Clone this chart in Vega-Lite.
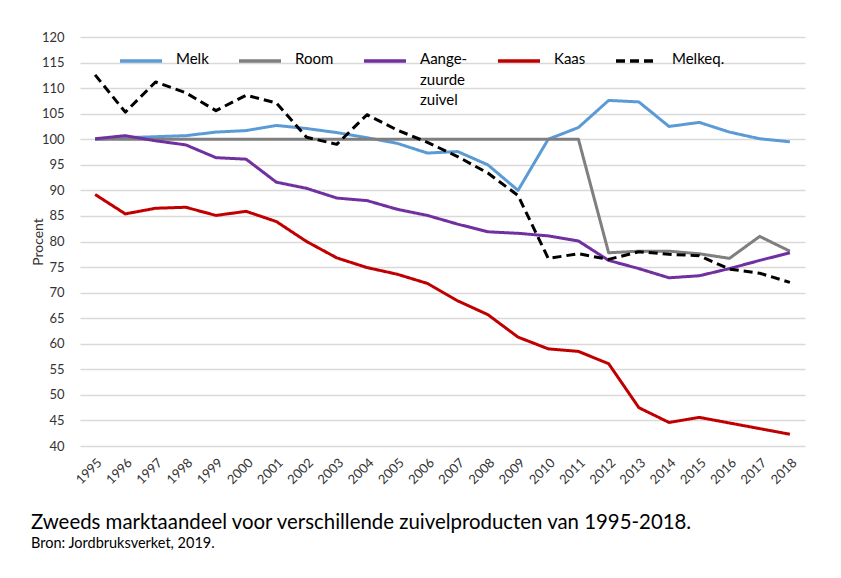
{
  "$schema": "https://vega.github.io/schema/vega-lite/v6.json",
  "width": 725,
  "height": 409,
  "autosize": {"type": "none"},
  "padding": {"left": 80, "top": 37, "right": 36, "bottom": 132},
  "background": "white",
  "config": {
    "font": "Lato",
    "view": {"stroke": null}
  },
  "title": {
    "text": "Zweeds marktaandeel voor verschillende zuivelproducten van 1995-2018.",
    "subtitle": "Bron: Jordbruksverket, 2019.",
    "orient": "bottom",
    "anchor": "start",
    "frame": "group",
    "dx": -49,
    "offset": 26,
    "font": "Lato",
    "fontSize": 20.4,
    "fontWeight": "normal",
    "color": "#000000",
    "subtitleFont": "Lato",
    "subtitleFontSize": 14.5,
    "subtitleColor": "#000000",
    "subtitlePadding": 4
  },
  "data": {
    "values": [
      {"year": "1995", "Melk": 100.0, "Room": 100, "Aangezuurde zuivel": 100.1, "Kaas": 89.2, "Melkeq": 112.6},
      {"year": "1996", "Melk": 100.3, "Room": 100, "Aangezuurde zuivel": 100.7, "Kaas": 85.4, "Melkeq": 105.3},
      {"year": "1997", "Melk": 100.5, "Room": 100, "Aangezuurde zuivel": 99.7, "Kaas": 86.5, "Melkeq": 111.2},
      {"year": "1998", "Melk": 100.7, "Room": 100, "Aangezuurde zuivel": 98.9, "Kaas": 86.7, "Melkeq": 109.1},
      {"year": "1999", "Melk": 101.4, "Room": 100, "Aangezuurde zuivel": 96.4, "Kaas": 85.1, "Melkeq": 105.6},
      {"year": "2000", "Melk": 101.7, "Room": 100, "Aangezuurde zuivel": 96.1, "Kaas": 85.9, "Melkeq": 108.6},
      {"year": "2001", "Melk": 102.7, "Room": 100, "Aangezuurde zuivel": 91.6, "Kaas": 83.9, "Melkeq": 107.1},
      {"year": "2002", "Melk": 102.1, "Room": 100, "Aangezuurde zuivel": 90.4, "Kaas": 80.0, "Melkeq": 100.4},
      {"year": "2003", "Melk": 101.3, "Room": 100, "Aangezuurde zuivel": 88.5, "Kaas": 76.8, "Melkeq": 99.0},
      {"year": "2004", "Melk": 100.3, "Room": 100, "Aangezuurde zuivel": 88.0, "Kaas": 74.9, "Melkeq": 104.8},
      {"year": "2005", "Melk": 99.2, "Room": 100, "Aangezuurde zuivel": 86.3, "Kaas": 73.6, "Melkeq": 101.8},
      {"year": "2006", "Melk": 97.3, "Room": 100, "Aangezuurde zuivel": 85.1, "Kaas": 71.8, "Melkeq": 99.4},
      {"year": "2007", "Melk": 97.6, "Room": 100, "Aangezuurde zuivel": 83.4, "Kaas": 68.4, "Melkeq": 96.6},
      {"year": "2008", "Melk": 95.0, "Room": 100, "Aangezuurde zuivel": 81.9, "Kaas": 65.7, "Melkeq": 93.4},
      {"year": "2009", "Melk": 90.0, "Room": 100, "Aangezuurde zuivel": 81.6, "Kaas": 61.3, "Melkeq": 89.0},
      {"year": "2010", "Melk": 100.0, "Room": 100, "Aangezuurde zuivel": 81.1, "Kaas": 59.0, "Melkeq": 76.7},
      {"year": "2011", "Melk": 102.3, "Room": 100, "Aangezuurde zuivel": 80.1, "Kaas": 58.5, "Melkeq": 77.6},
      {"year": "2012", "Melk": 107.6, "Room": 77.8, "Aangezuurde zuivel": 76.3, "Kaas": 56.1, "Melkeq": 76.5},
      {"year": "2013", "Melk": 107.3, "Room": 78.1, "Aangezuurde zuivel": 74.7, "Kaas": 47.5, "Melkeq": 78.0},
      {"year": "2014", "Melk": 102.5, "Room": 78.1, "Aangezuurde zuivel": 72.9, "Kaas": 44.6, "Melkeq": 77.5},
      {"year": "2015", "Melk": 103.3, "Room": 77.6, "Aangezuurde zuivel": 73.3, "Kaas": 45.6, "Melkeq": 77.2},
      {"year": "2016", "Melk": 101.4, "Room": 76.7, "Aangezuurde zuivel": 74.7, "Kaas": 44.5, "Melkeq": 74.6},
      {"year": "2017", "Melk": 100.1, "Room": 81.0, "Aangezuurde zuivel": 76.3, "Kaas": 43.4, "Melkeq": 73.8},
      {"year": "2018", "Melk": 99.5, "Room": 78.1, "Aangezuurde zuivel": 77.8, "Kaas": 42.3, "Melkeq": 72.0}
    ]
  },
  "transform": [
    {"fold": ["Melk", "Room", "Aangezuurde zuivel", "Kaas", "Melkeq"], "as": ["product", "value"]}
  ],
  "mark": {"type": "line", "strokeWidth": 3, "strokeJoin": "round"},
  "encoding": {
    "x": {
      "field": "year",
      "type": "ordinal",
      "scale": {"type": "point", "padding": 0.5},
      "axis": {
        "title": null,
        "labelAngle": -45,
        "labelFont": "Lato",
        "labelFontSize": 13,
        "labelColor": "#333333",
        "labelPadding": 10,
        "domain": false,
        "ticks": false,
        "grid": false
      }
    },
    "y": {
      "field": "value",
      "type": "quantitative",
      "scale": {"domain": [40, 120], "nice": false, "zero": false},
      "axis": {
        "title": "Procent",
        "titleFont": "Lato",
        "titleFontSize": 14,
        "titleFontWeight": "normal",
        "titleColor": "#333333",
        "titlePadding": -4,
        "values": [40, 45, 50, 55, 60, 65, 70, 75, 80, 85, 90, 95, 100, 105, 110, 115, 120],
        "labelFont": "Lato",
        "labelFontSize": 13,
        "labelColor": "#333333",
        "labelPadding": 16,
        "domain": false,
        "ticks": false,
        "grid": true,
        "gridColor": "#d9d9d9",
        "gridWidth": 1.5,
        "encode": {
          "grid": {"update": {"x": {"signal": "datum.value == 115 ? 658 : 0"}}}
        }
      }
    },
    "color": {
      "field": "product",
      "type": "nominal",
      "scale": {
        "domain": ["Melk", "Room", "Aangezuurde zuivel", "Kaas", "Melkeq"],
        "range": ["#5b9bd5", "#7f7f7f", "#7030a0", "#c00000", "#000000"]
      },
      "legend": {
        "title": null,
        "orient": "none",
        "legendX": 38,
        "legendY": 1,
        "direction": "horizontal",
        "columns": 5,
        "columnPadding": 23,
        "padding": 0,
        "symbolType": "stroke",
        "symbolSize": 1764,
        "symbolStrokeWidth": 3.5,
        "labelFont": "Lato",
        "labelFontSize": 15,
        "labelColor": "#000000",
        "labelOffset": 12,
        "labelBaseline": "top",
        "labelLimit": 200,
        "labelExpr": "datum.label == 'Aangezuurde zuivel' ? ['Aange-', 'zuurde', 'zuivel'] : [datum.label == 'Melkeq' ? 'Melkeq.' : datum.label, ' ', ' ']",
        "encode": {
          "labels": {"update": {"dy": {"value": -9}, "lineHeight": {"value": 20.5}}},
          "entries": {
            "update": {
              "fill": {"signal": "datum.label == 'Aangezuurde zuivel' ? 'white' : null"},
              "width": {"signal": "datum.label == 'Aangezuurde zuivel' ? 96 : 0"},
              "height": {"signal": "datum.label == 'Aangezuurde zuivel' ? 72 : 0"}
            }
          }
        }
      }
    },
    "strokeDash": {
      "field": "product",
      "type": "nominal",
      "scale": {
        "domain": ["Melk", "Room", "Aangezuurde zuivel", "Kaas", "Melkeq"],
        "range": [[1, 0], [1, 0], [1, 0], [1, 0], [9, 5]]
      },
      "legend": null
    }
  }
}
